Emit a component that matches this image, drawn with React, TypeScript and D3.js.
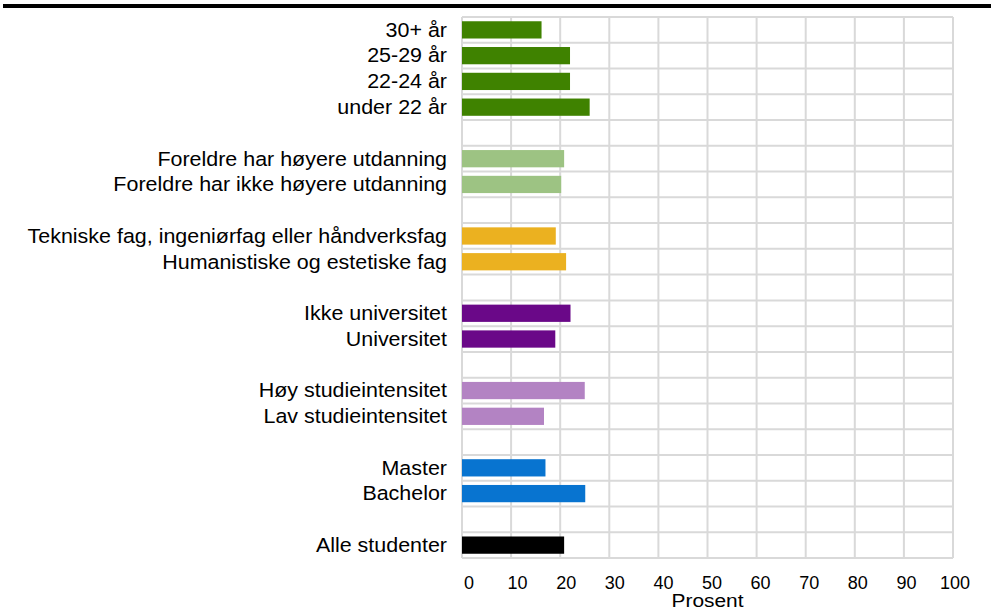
import React from "react";
import * as d3 from "d3";

const categories = [
  "30+ år", "25-29 år", "22-24 år", "under 22 år", "",
  "Foreldre har høyere utdanning", "Foreldre har ikke høyere utdanning", "",
  "Tekniske fag, ingeniørfag eller håndverksfag", "Humanistiske og estetiske fag", "",
  "Ikke universitet", "Universitet", "",
  "Høy studieintensitet", "Lav studieintensitet", "",
  "Master", "Bachelor", "",
  "Alle studenter",
];
const values: (number | null)[] = [
  16.2, 22.0, 22.0, 26.0, null,
  20.8, 20.2, null,
  19.1, 21.2, null,
  22.1, 19.0, null,
  25.0, 16.7, null,
  17.0, 25.1, null,
  20.8,
];
const groups = [
  "age", "age", "age", "age", "",
  "parents", "parents", "",
  "field", "field", "",
  "inst", "inst", "",
  "intens", "intens", "",
  "degree", "degree", "",
  "all",
];
const groupColors: Record<string, string> = {
  age: "#3f8200",
  parents: "#9dc383",
  field: "#ebb120",
  inst: "#6a0888",
  intens: "#b383c3",
  degree: "#0874d0",
  all: "#000000",
};
const xTicks = [0, 10, 20, 30, 40, 50, 60, 70, 80, 90, 100];
const xTitle = "Prosent";

const W = 991;
const H = 610;
const plot = { left: 462, right: 953, top: 17, bottom: 558 };

export default function App() {
  const keys = categories.map((c, i) => `${i}`);
  const x = d3.scaleLinear().domain([0, 100]).range([plot.left, plot.right]);
  const xLabel = d3.scaleLinear().domain([0, 100]).range([469, 955]);
  const pad = 0.33;
  const y = d3
    .scaleBand<string>()
    .domain(keys)
    .range([plot.top, plot.bottom])
    .paddingInner(pad)
    .paddingOuter(pad / 2);
  const step = y.step();
  const hLines = d3.range(keys.length + 1).map((i) => plot.top + i * step);
  const grid = "#d9d9d9";
  const font = "'Liberation Sans', Arial, sans-serif";

  return (
    <svg
      width={W}
      height={H}
      style={{ position: "absolute", left: 0, top: 0, background: "#fff" }}
      fontFamily={font}
    >
      <rect x={3} y={4} width={W - 3} height={4} fill="#000" />
      {xTicks.map((t) => (
        <line key={"v" + t} x1={x(t)} x2={x(t)} y1={plot.top} y2={plot.bottom} stroke={grid} strokeWidth={2} />
      ))}
      {hLines.map((yy, i) => (
        <line key={"h" + i} x1={plot.left} x2={plot.right} y1={yy} y2={yy} stroke={grid} strokeWidth={2} />
      ))}
      {values.map((v, i) =>
        v == null ? null : (
          <rect
            key={"b" + i}
            x={x(0)}
            y={y(keys[i])}
            width={x(v) - x(0)}
            height={y.bandwidth()}
            fill={groupColors[groups[i]]}
          />
        )
      )}
      {categories.map((c, i) =>
        c ? (
          <text
            key={"l" + i}
            transform={`translate(447,${(y(keys[i]) as number) + y.bandwidth() / 2}) scale(1.1,1)`}
            dy="0.35em"
            textAnchor="end"
            fontSize={19.5}
            fill="#000"
          >
            {c}
          </text>
        ) : null
      )}
      {xTicks.map((t) => (
        <text key={"t" + t} x={xLabel(t)} y={589} textAnchor="middle" fontSize={18} fill="#000">
          {t}
        </text>
      ))}
      <text
        transform={`translate(${(plot.left + plot.right) / 2},607) scale(1.1,1)`}
        textAnchor="middle"
        fontSize={19}
        fill="#000"
      >
        {xTitle}
      </text>
    </svg>
  );
}
